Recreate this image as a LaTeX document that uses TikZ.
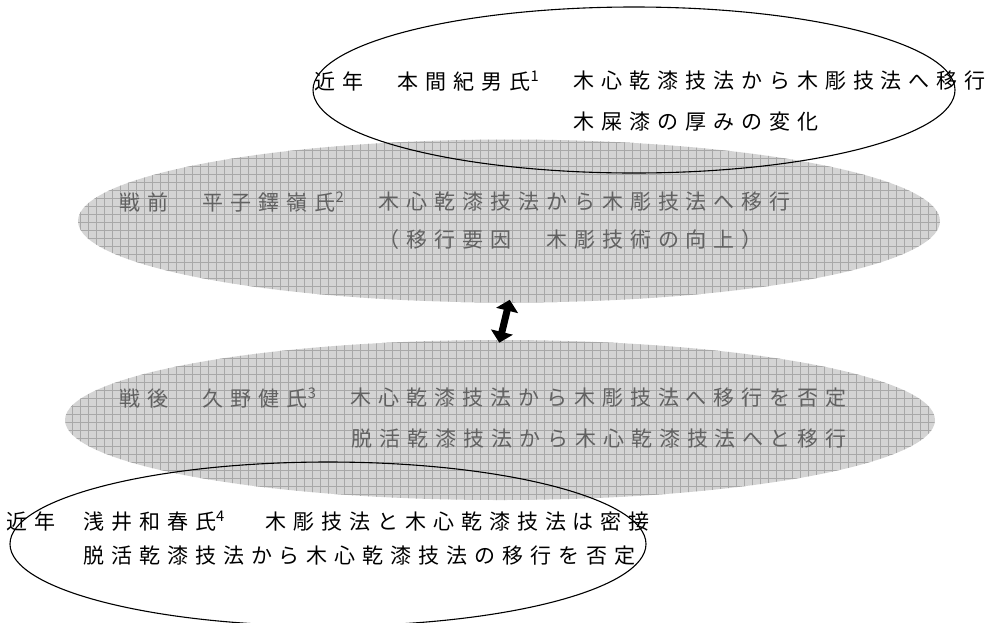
\documentclass[tikz,border=0pt]{standalone}
\usepackage{fontspec}
\newfontfamily\jpfont{Noto Sans CJK JP}[LetterSpace=33]
\usetikzlibrary{shapes.geometric,patterns.meta,arrows.meta}
\tikzset{
  greyell/.style={ellipse, inner sep=0pt, fill=black!17, draw=none,
    postaction={pattern={Lines[distance=8pt,angle=0,line width=0.9pt]}, pattern color=black!34},
    postaction={pattern={Lines[distance=8pt,angle=90,line width=0.9pt]}, pattern color=black!34}},
  lineell/.style={ellipse, inner sep=0pt, draw=black, line width=1.1pt},
  btxt/.style={anchor=west, inner sep=0pt, text=black,
    font=\jpfont\fontsize{21}{21}\selectfont},
  gtxt/.style={btxt, text=black!62},
  dblarrow/.style={{Triangle[width=22pt,length=11pt]}-{Triangle[width=22pt,length=11pt]},
    line width=7pt, shorten <=-3pt, shorten >=-3pt},
}
\newcommand{\supnum}[1]{\textsuperscript{#1}\hspace{13pt}}
\begin{document}
\begin{tikzpicture}[x=1pt,y=-1pt]
\useasboundingbox (0,0) rectangle (995,622);
% grey ellipses
\node[greyell, minimum width=862, minimum height=163] (g1) at (509,221) {};
\node[greyell, minimum width=870, minimum height=160] (g2) at (500,420) {};
\draw[dblarrow] (g1.south) -- (g2.north);
% outline ellipses
\node[lineell, minimum width=642, minimum height=166] (e1) at (634,90) {};
\node[lineell, minimum width=636, minimum height=164] (e2) at (328,544) {};
% top texts
\node[btxt] (t1a) at (314,81) {近年　本間紀男氏\supnum{1}　};
\node[btxt] (t1b) at (t1a.east) {木心乾漆技法から木彫技法へ移行};
\node[btxt] (t1c) at (t1b.west |- 0,122) {木屎漆の厚みの変化};
% grey 1 texts
\node[gtxt] (t2a) at (119,202) {戦前　平子鐸嶺氏\supnum{2}　};
\node[gtxt] (t2b) at (t2a.east) {木心乾漆技法から木彫技法へ移行};
\node[gtxt] (t2c) at (t2b.west |- 0,240) {（移行要因　木彫技術の向上）};
% grey 2 texts
\node[gtxt] (t3a) at (119,398) {戦後　久野健氏\supnum{3}　};
\node[gtxt] (t3b) at (t3a.east) {木心乾漆技法から木彫技法へ移行を否定};
\node[gtxt, anchor=east] (t3c) at (t3b.east |- 0,439) {脱活乾漆技法から木心乾漆技法へと移行};
% bottom texts
\node[btxt] (t4a) at (6,521) {近年　};
\node[btxt] (t4b) at (t4a.east) {浅井和春氏\supnum{4}　木彫技法と木心乾漆技法は密接};
\node[btxt] (t4c) at (t4b.west |- 0,556) {脱活乾漆技法から木心乾漆技法の移行を否定};
\end{tikzpicture}
\end{document}
